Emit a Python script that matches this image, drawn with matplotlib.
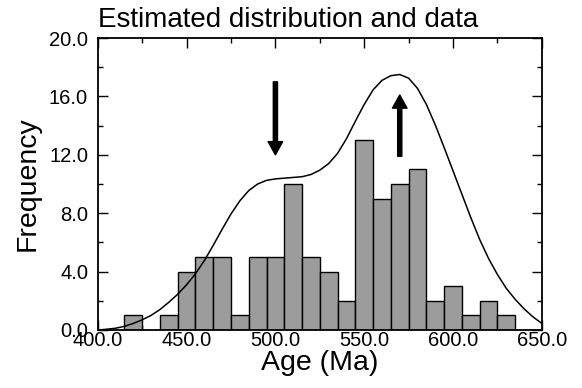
import matplotlib
matplotlib.use('Agg')
import matplotlib.pyplot as plt
from matplotlib.ticker import MultipleLocator, FormatStrFormatter

plt.rcParams['font.family'] = ['Liberation Sans', 'DejaVu Sans']

# histogram of ages (bin centres, 10 Ma wide)
bin_centres = [420, 430, 440, 450, 460, 470, 480, 490, 500, 510, 520,
               530, 540, 550, 560, 570, 580, 590, 600, 610, 620, 630]
counts = [1, 0, 1, 4, 5, 5, 1, 5, 5, 10, 5,
          4, 2, 13, 9, 10, 11, 2, 3, 1, 2, 1]

# estimated distribution, every 5 Ma
curve_age = [400, 405, 410, 415, 420, 425, 430, 435, 440, 445, 450,
             455, 460, 465, 470, 475, 480, 485, 490, 495, 500,
             505, 510, 515, 520, 525, 530, 535, 540, 545, 550,
             555, 560, 565, 570, 575, 580, 585, 590, 595, 600,
             605, 610, 615, 620, 625, 630, 635, 640, 645, 650]
curve_freq = [0.0, 0.05, 0.12, 0.25, 0.45, 0.7, 1.0, 1.4, 1.9, 2.45, 3.1,
              3.85, 4.75, 5.8, 6.9, 7.95, 8.85, 9.55, 10.0, 10.25, 10.35,
              10.4, 10.45, 10.5, 10.65, 10.95, 11.4, 12.1, 13.1, 14.3, 15.45,
              16.45, 17.1, 17.42, 17.5, 17.25, 16.55, 15.45, 14.05, 12.5, 10.9,
              9.3, 7.7, 6.2, 4.9, 3.8, 2.85, 2.1, 1.45, 0.9, 0.45]

# arrows: (x, tail y, head y)
arrows = [(500, 17.0, 12.0), (570, 11.9, 16.1)]

fig = plt.figure(figsize=(5.82, 3.88), dpi=100)
ax = fig.add_axes([0.168, 0.1495, 0.763, 0.7525])

ax.bar(bin_centres, counts, width=10, color='#9c9c9c', edgecolor='black', linewidth=1.0, zorder=2)
ax.plot(curve_age, curve_freq, color='black', linewidth=1.1, zorder=3,
        solid_joinstyle='round')

for x, y0, y1 in arrows:
    ax.annotate('', xy=(x, y1), xytext=(x, y0),
                arrowprops=dict(facecolor='black', edgecolor='black', width=3,
                                headwidth=10.5, headlength=9.5, shrink=0))

ax.set_xlim(400, 650)
ax.set_ylim(0, 20)
ax.xaxis.set_major_locator(MultipleLocator(50))
ax.xaxis.set_minor_locator(MultipleLocator(25))
ax.yaxis.set_major_locator(MultipleLocator(4))
ax.yaxis.set_minor_locator(MultipleLocator(2))
ax.xaxis.set_major_formatter(FormatStrFormatter('%.1f'))
ax.yaxis.set_major_formatter(FormatStrFormatter('%.1f'))
ax.tick_params(which='both', direction='in', top=True, right=True, labelsize=14.5)
ax.tick_params(which='major', length=7, width=1)
ax.tick_params(which='minor', length=3.5, width=1)
ax.tick_params(axis='x', pad=1)
ax.tick_params(axis='y', pad=7)
for s in ax.spines.values():
    s.set_linewidth(1.3)

ax.set_xlabel('Age (Ma)', fontsize=20.5, labelpad=0)
ax.set_ylabel('Frequency', fontsize=20.5, labelpad=6)
ax.set_title('Estimated distribution and data', fontsize=20, loc='left', pad=8)

fig.savefig('out.png', dpi=100)
